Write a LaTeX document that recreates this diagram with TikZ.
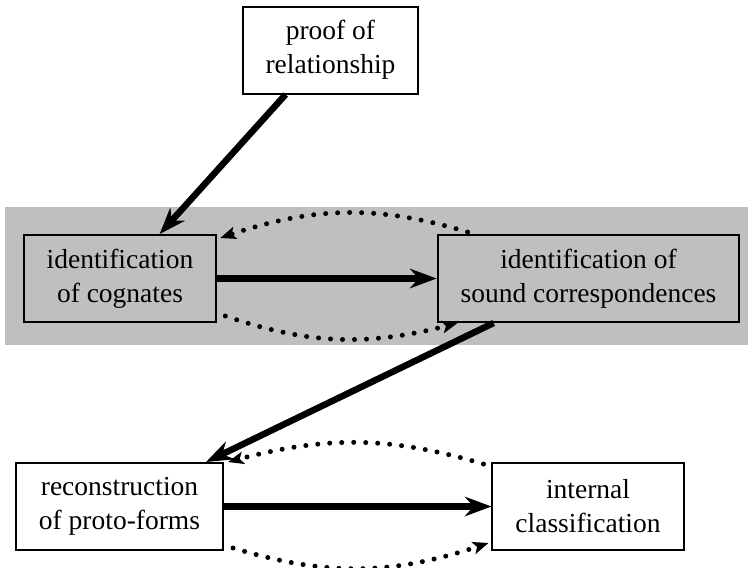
\documentclass[tikz,border=0pt]{standalone}
\usepackage{fontspec}
\setmainfont{Liberation Serif}
\usetikzlibrary{arrows.meta,bending}

\definecolor{bandgray}{gray}{0.75}

\begin{document}
\begin{tikzpicture}[x=1pt,y=-1pt,
    box/.style={draw,line width=2pt,align=center,minimum height=87pt,inner xsep=23pt,
      font=\fontsize{27.5}{34}\selectfont},
    flow/.style={line width=6.5pt,-{Stealth[length=27pt,width=20pt,inset=9pt,line width=0pt]}},
    feedback/.style={line width=5pt,line cap=round,dash pattern=on 0pt off 12pt,
      -{Stealth[length=16pt,width=13pt,inset=4pt,line width=0pt]}}]
    \useasboundingbox (0,0) rectangle (748,568);
    \fill[bandgray] (5,207) rectangle (748,345);
    \node[box] (proof) at (330.5,50) {proof of\\relationship};
    \node[box] (cogn) at (120,278.5) {identification\\of cognates};
    \node[box] (sound) at (588.5,278.5) {identification of\\sound correspondences};
    \node[box] (recon) at (119.5,506.5) {reconstruction\\of proto-forms};
    \node[box] (classif) at (588,506.5) {internal\\classification};
    % main steps
    \draw[flow] ([xshift=44pt]proof.south west) -- ([xshift=137pt]cogn.north west);
    \draw[flow] (cogn.east) -- (sound.west);
    \draw[flow] ([xshift=57pt]sound.south west) -- ([xshift=-18pt]recon.north east);
    \draw[flow] (recon.east) -- (classif.west);
    % iterations
    \draw[feedback] ([xshift=31pt,yshift=2pt]sound.north west)
      to[bend right=18] ([xshift=3pt,yshift=-4pt]cogn.north east);
    \draw[feedback] ([xshift=8pt,yshift=7pt]cogn.south east)
      to[bend right=17] ([xshift=21pt]sound.south west);
    \draw[feedback] ([xshift=-8pt,yshift=-2pt]classif.north west)
      to[bend right=16] ([xshift=4pt]recon.north east);
    \draw[feedback] ([xshift=9pt,yshift=3pt]recon.south east)
      to[bend right=18] ([xshift=-3pt,yshift=8pt]classif.south west);
  \end{tikzpicture}
\end{document}
